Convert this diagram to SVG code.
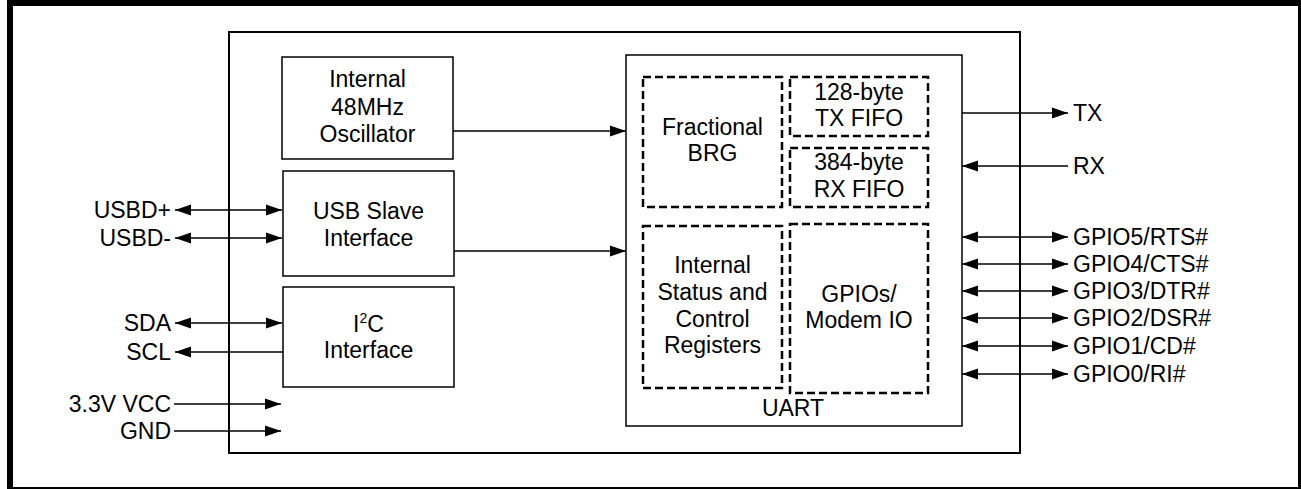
<svg xmlns="http://www.w3.org/2000/svg" width="1301" height="489" viewBox="0 0 1301 489">
<style>
text{font-family:"Liberation Sans",Arial,sans-serif;font-size:23px;fill:#000}
.c{text-anchor:middle}
.r{text-anchor:end}
.box{fill:#fff;stroke:#000;stroke-width:1.5}
.dash{fill:none;stroke:#000;stroke-width:2.5;stroke-dasharray:8,4}
.ln{stroke:#000;stroke-width:1.5;fill:none}
</style>
<defs>
<marker id="ah" viewBox="0 0 16 12" refX="16" refY="6" markerWidth="16" markerHeight="12" markerUnits="userSpaceOnUse" orient="auto-start-reverse">
<path d="M0,0.5L16,6L0,11.5z" fill="#000"/>
</marker>
</defs>
<rect x="10" y="3" width="1291" height="487" fill="#fff" stroke="#000" stroke-width="6"/>
<g id="chip"><rect x="229" y="32" width="791" height="421" fill="none" stroke="#000" stroke-width="2"/></g>
<g id="osc"><rect class="box" x="282" y="57" width="171" height="102"/>
<text class="c" x="367.5" y="87">Internal</text><text class="c" x="367.5" y="115">48MHz</text><text class="c" x="367.5" y="142">Oscillator</text></g>
<g id="usb"><rect class="box" x="283" y="171" width="171" height="105"/>
<text class="c" x="368.5" y="219">USB Slave</text><text class="c" x="368.5" y="246">Interface</text></g>
<g id="i2c"><rect class="box" x="283" y="287" width="171" height="100"/>
<text class="c" x="368.5" y="332">I<tspan font-size="14" dy="-9">2</tspan><tspan dy="9">C</tspan></text><text class="c" x="368.5" y="358">Interface</text></g>
<g id="uart"><rect class="box" x="626" y="55" width="336" height="371"/>
<text class="c" x="793" y="416">UART</text></g>
<g id="brg"><rect class="dash" x="643" y="77" width="139" height="130"/>
<text class="c" x="712.5" y="135">Fractional</text><text class="c" x="712.5" y="161">BRG</text></g>
<g id="txfifo"><rect class="dash" x="790" y="77" width="138" height="59"/>
<text class="c" x="859" y="100">128-byte</text><text class="c" x="859" y="126">TX FIFO</text></g>
<g id="rxfifo"><rect class="dash" x="790" y="148" width="138" height="59"/>
<text class="c" x="859" y="170">384-byte</text><text class="c" x="859" y="197">RX FIFO</text></g>
<g id="regs"><rect class="dash" x="643" y="226" width="139" height="162"/>
<text class="c" x="712.5" y="273">Internal</text><text class="c" x="712.5" y="300">Status and</text><text class="c" x="712.5" y="327">Control</text><text class="c" x="712.5" y="353">Registers</text></g>
<g id="gpios"><rect class="dash" x="790" y="224" width="138" height="169"/>
<text class="c" x="859" y="302">GPIOs/</text><text class="c" x="859" y="328">Modem IO</text></g>
<g id="labels">
<text class="r" x="171" y="218">USBD+</text>
<text class="r" x="171" y="246">USBD-</text>
<text class="r" x="171" y="331">SDA</text>
<text class="r" x="171" y="360">SCL</text>
<text class="r" x="171" y="412">3.3V VCC</text>
<text class="r" x="171" y="439">GND</text>
<text x="1073" y="121">TX</text>
<text x="1073" y="174">RX</text>
<text x="1073" y="245">GPIO5/RTS#</text>
<text x="1073" y="272">GPIO4/CTS#</text>
<text x="1073" y="299">GPIO3/DTR#</text>
<text x="1073" y="326">GPIO2/DSR#</text>
<text x="1073" y="354">GPIO1/CD#</text>
<text x="1073" y="382">GPIO0/RI#</text>
</g>
<g id="connectors">
<line class="ln" x1="175" y1="210" x2="282" y2="210" marker-start="url(#ah)" marker-end="url(#ah)"/>
<line class="ln" x1="175" y1="238" x2="282" y2="238" marker-start="url(#ah)" marker-end="url(#ah)"/>
<line class="ln" x1="175" y1="323" x2="282" y2="323" marker-start="url(#ah)" marker-end="url(#ah)"/>
<line class="ln" x1="283" y1="352" x2="175" y2="352" marker-end="url(#ah)"/>
<line class="ln" x1="174" y1="404" x2="281" y2="404" marker-end="url(#ah)"/>
<line class="ln" x1="174" y1="431" x2="281" y2="431" marker-end="url(#ah)"/>
<line class="ln" x1="453" y1="131" x2="626" y2="131" marker-end="url(#ah)"/>
<line class="ln" x1="454" y1="251" x2="626" y2="251" marker-end="url(#ah)"/>
<line class="ln" x1="962" y1="113" x2="1068" y2="113" marker-end="url(#ah)"/>
<line class="ln" x1="1068" y1="166" x2="962" y2="166" marker-end="url(#ah)"/>
<line class="ln" x1="962" y1="237" x2="1068" y2="237" marker-start="url(#ah)" marker-end="url(#ah)"/>
<line class="ln" x1="962" y1="264" x2="1068" y2="264" marker-start="url(#ah)" marker-end="url(#ah)"/>
<line class="ln" x1="962" y1="291" x2="1068" y2="291" marker-start="url(#ah)" marker-end="url(#ah)"/>
<line class="ln" x1="962" y1="318" x2="1068" y2="318" marker-start="url(#ah)" marker-end="url(#ah)"/>
<line class="ln" x1="962" y1="346" x2="1068" y2="346" marker-start="url(#ah)" marker-end="url(#ah)"/>
<line class="ln" x1="962" y1="374" x2="1068" y2="374" marker-start="url(#ah)" marker-end="url(#ah)"/>
</g>
</svg>
